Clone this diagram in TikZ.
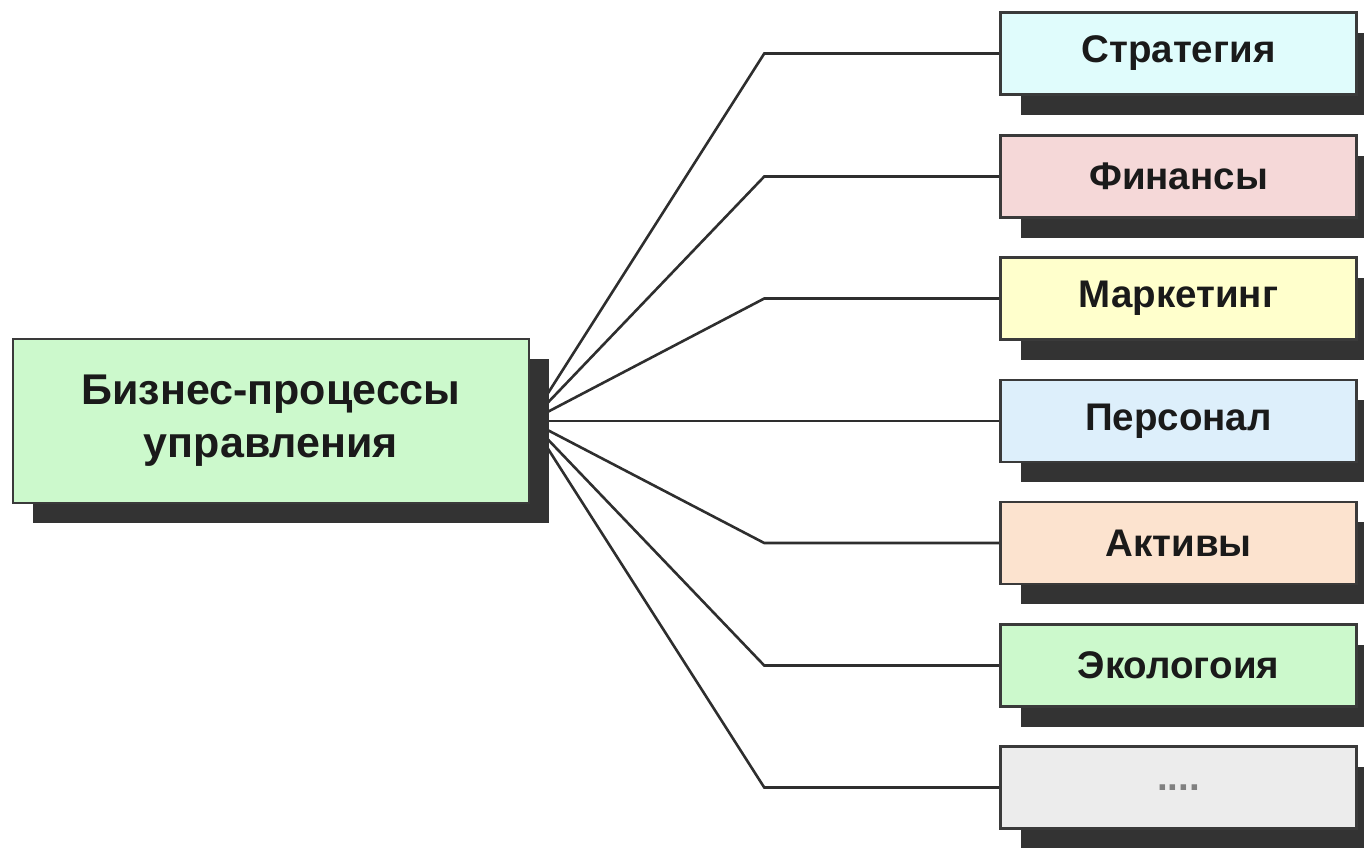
\documentclass[tikz,border=0pt]{standalone}
\usepackage{fontspec}
\setmainfont{Liberation Sans}
\usetikzlibrary{shadows,backgrounds}
\definecolor{bordercol}{HTML}{3A3A3A}
\definecolor{shadowcol}{HTML}{333333}
\definecolor{linecol}{HTML}{2E2E2E}
\definecolor{textcol}{HTML}{1A1A1A}
\definecolor{cStrat}{HTML}{E0FCFC}
\definecolor{cFin}{HTML}{F5D8D8}
\definecolor{cMark}{HTML}{FFFFCC}
\definecolor{cPers}{HTML}{DDEFFB}
\definecolor{cAkt}{HTML}{FCE3CF}
\definecolor{cEko}{HTML}{CCF9CC}
\definecolor{cEtc}{HTML}{ECECEC}
\definecolor{cMain}{HTML}{CCF9CC}
\begin{document}
\begin{tikzpicture}[x=1pt,y=-1pt,
  shadowed/.style={general shadow={fill=shadowcol, shadow xshift=20pt, shadow yshift=-20pt}},
  box/.style={draw=bordercol, line width=2.5pt, minimum width=356pt, minimum height=82pt,
    inner sep=0pt, font=\fontsize{38.5}{46}\selectfont\bfseries, text=textcol, shadowed},
  mainbox/.style={draw=bordercol, line width=2.5pt, minimum width=516pt, minimum height=164pt,
    inner sep=0pt, align=center, font=\fontsize{43}{53}\selectfont\bfseries, text=textcol,
    fill=cMain, shadowed},
  conn/.style={draw=linecol, line width=2.6pt}]
\useasboundingbox (0,0) rectangle (1364,847);

\node[mainbox] (main) at (271,421) {Бизнес-процессы\\управления};

\node[box, fill=cStrat] (s1) at (1178.5,53.5) {Стратегия};
\node[box, fill=cFin]   (s2) at (1178.5,176.5) {Финансы};
\node[box, fill=cMark]  (s3) at (1178.5,298.5) {Маркетинг};
\node[box, fill=cPers]  (s4) at (1178.5,421) {Персонал};
\node[box, fill=cAkt]   (s5) at (1178.5,543) {Активы};
\node[box, fill=cEko]   (s6) at (1178.5,665.5) {Экологоия};
\node[box, fill=cEtc, text=gray] (s7) at (1178.5,787.5) {....};

\begin{scope}[on background layer]
  \foreach \n in {s1,s2,s3,s4,s5,s6,s7}{
    \draw[conn] (main.east) -- ([xshift=-235pt]\n.west) -- (\n.west);
  }
\end{scope}
\end{tikzpicture}
\end{document}
